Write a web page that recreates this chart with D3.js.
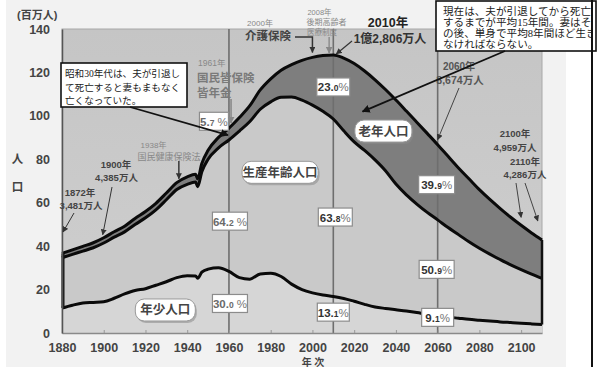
<!DOCTYPE html>
<html>
<head>
<meta charset="utf-8">
<script src="https://cdn.jsdelivr.net/npm/d3@7"></script>
<style>
  html, body { margin: 0; padding: 0; background: #fff; }
  svg { display: block; }
</style>
</head>
<body>
<svg id="chart" width="601" height="367"></svg>
<script>
// Japan population by age group, 1880–2110 (millions)
const years = [1880, 1885, 1890, 1895, 1900, 1905, 1910, 1915, 1920, 1925, 1930, 1935, 1940, 1944, 1945, 1947,
  1950, 1955, 1960, 1965, 1970, 1975, 1980, 1985, 1990, 1995, 2000, 2005, 2010, 2015, 2020, 2025, 2030,
  2035, 2040, 2045, 2050, 2055, 2060, 2065, 2070, 2075, 2080, 2085, 2090, 2095, 2100, 2105, 2110];
const totalPop = [36.65, 38.31, 39.90, 41.56, 43.85, 46.62, 49.18, 52.75, 55.96, 59.74, 64.45, 69.25, 71.93, 73.10, 71.00, 78.10,
  84.12, 90.08, 94.30, 99.21, 104.67, 111.94, 117.06, 121.05, 123.61, 125.57, 126.93, 127.77, 128.06, 126.60, 124.10, 120.66, 116.62,
  112.12, 107.28, 102.21, 97.08, 91.93, 86.74, 81.35, 76.00, 71.00, 66.00, 61.50, 57.30, 53.30, 49.59, 46.10, 42.86];
const youthPop = [11.5, 12.8, 13.8, 14.1, 14.4, 16.0, 18.0, 19.6, 20.4, 22.0, 23.6, 25.5, 26.4, 26.3, 25.2, 28.0,
  29.4, 30.0, 28.33, 25.5, 24.8, 27.2, 27.5, 26.0, 22.5, 20.0, 18.5, 17.5, 16.83, 15.9, 14.6, 13.2, 12.0,
  11.3, 10.7, 10.1, 9.4, 8.6, 7.93, 7.3, 6.8, 6.3, 5.9, 5.5, 5.1, 4.8, 4.5, 4.2, 3.9];
const elderlyPop = [2.0, 2.1, 2.2, 2.3, 2.4, 2.5, 2.6, 2.8, 2.9, 3.0, 3.1, 3.2, 3.5, 3.6, 3.6, 3.8,
  4.1, 4.8, 5.41, 6.2, 7.3, 8.9, 10.6, 12.5, 14.9, 18.3, 22.0, 25.7, 29.50, 33.5, 36.1, 36.6, 36.9,
  37.4, 38.7, 38.6, 37.7, 36.4, 34.64, 32.8, 30.7, 29.0, 27.0, 25.2, 23.5, 21.9, 20.4, 19.0, 17.7];
const xTicks = [1880, 1900, 1920, 1940, 1960, 1980, 2000, 2020, 2040, 2060, 2080, 2100];
const yTicks = [0, 20, 40, 60, 80, 100, 120, 140];
const shareYears = [1960, 2010, 2060];

const rows = years.map((yr, i) => ({
  year: yr,
  total: totalPop[i],
  youth: youthPop[i],
  elderly: elderlyPop[i],
  under65: totalPop[i] - elderlyPop[i]
}));
const at = yr => rows.find(r => r.year === yr);

const LAT = "'Liberation Sans', Arial, 'Noto Sans CJK JP', sans-serif";
const CJK = "'Noto Sans CJK JP', 'Liberation Sans', sans-serif";
const SERIF = "'Liberation Serif', 'Noto Sans CJK JP', serif";

const svg = d3.select("#chart");
const x = d3.scaleLinear().domain([1880, 2110]).range([62, 542]);
const y = d3.scaleLinear().domain([0, 140]).range([333, 29]);

const defs = svg.append("defs");
const bgGrad = defs.append("linearGradient").attr("id", "plotBg").attr("x1", 0).attr("y1", 0).attr("x2", 0).attr("y2", 1);
bgGrad.append("stop").attr("offset", "0%").attr("stop-color", "#c5c5c5");
bgGrad.append("stop").attr("offset", "100%").attr("stop-color", "#cfcfcf");
function marker(id, color, size) {
  defs.append("marker").attr("id", id).attr("viewBox", "0 0 10 10").attr("refX", 9).attr("refY", 5)
    .attr("markerUnits", "userSpaceOnUse").attr("markerWidth", size).attr("markerHeight", size)
    .attr("orient", "auto")
    .append("path").attr("d", "M0,0 L10,5 L0,10 z").attr("fill", color);
}
marker("arrBlack", "#111", 8);
marker("arrDark", "#333", 6);
marker("arrGray", "#888", 7);
defs.append("clipPath").attr("id", "noteClip").append("rect")
  .attr("x", 436).attr("y", 0).attr("width", 155).attr("height", 52);

// figure panel
svg.append("rect").attr("x", 6).attr("y", 0).attr("width", 560).attr("height", 367).attr("fill", "#f2f2f2");

// plot background
svg.append("rect")
  .attr("x", x(1880)).attr("y", y(140))
  .attr("width", x(2110) - x(1880)).attr("height", y(0) - y(140))
  .attr("fill", "url(#plotBg)").attr("stroke", "#a8a8a8").attr("stroke-width", 1);

const curve = d3.curveMonotoneX;
const g = svg.append("g");

// stacked age bands
g.append("path").datum(rows).attr("fill", "#d6d6d6")
  .attr("d", d3.area().curve(curve).x(d => x(d.year)).y0(y(0)).y1(d => y(d.youth)));
g.append("path").datum(rows).attr("fill", "#c9c9c9")
  .attr("d", d3.area().curve(curve).x(d => x(d.year)).y0(d => y(d.youth)).y1(d => y(d.under65)));
g.append("path").datum(rows).attr("fill", "#7e7e7e")
  .attr("d", d3.area().curve(curve).x(d => x(d.year)).y0(d => y(d.under65)).y1(d => y(d.total)));

// reference years
g.selectAll(".refLine").data(shareYears).join("line")
  .attr("x1", d => x(d)).attr("x2", d => x(d))
  .attr("y1", y(140)).attr("y2", y(0))
  .attr("stroke", "#6e6e6e").attr("stroke-width", 1.6);

// boundary lines
["total", "under65", "youth"].forEach(k => {
  g.append("path").datum(rows).attr("fill", "none").attr("stroke", "#0a0a0a")
    .attr("stroke-width", 3).attr("stroke-linejoin", "round")
    .attr("d", d3.line().curve(curve).x(d => x(d.year)).y(d => y(d[k])));
});
const first = rows[0], last = rows[rows.length - 1];
g.append("line").attr("x1", x(first.year) + 1).attr("x2", x(first.year) + 1)
  .attr("y1", y(first.youth)).attr("y2", y(first.total)).attr("stroke", "#111").attr("stroke-width", 3);
g.append("line").attr("x1", x(last.year)).attr("x2", x(last.year))
  .attr("y1", y(last.youth)).attr("y2", y(last.total)).attr("stroke", "#111").attr("stroke-width", 2.5);

// axes
const xAxis = svg.append("g").attr("transform", `translate(0,${y(0)})`)
  .call(d3.axisBottom(x).tickValues(xTicks).tickFormat(d3.format("d")).tickSizeInner(-3).tickSizeOuter(0).tickPadding(10));
xAxis.select(".domain").attr("stroke", "#8a8a8a").attr("stroke-width", 1.5);
xAxis.selectAll(".tick line").attr("stroke", "#999");
xAxis.selectAll("text").attr("font-family", LAT).attr("font-size", 12.5).attr("font-weight", "bold").attr("fill", "#444");

const yAxis = svg.append("g").attr("transform", `translate(${x(1880)},0)`)
  .call(d3.axisLeft(y).tickValues(yTicks).tickSize(0).tickPadding(12));
yAxis.select(".domain").attr("stroke", "#555").attr("stroke-width", 1.5);
yAxis.selectAll("text").attr("font-family", LAT).attr("font-size", 12.5).attr("font-weight", "bold").attr("fill", "#444");

// axis titles
function txt(t, px, py, size, opts = {}) {
  return svg.append("text").attr("x", px).attr("y", py).text(t)
    .attr("font-family", opts.family || CJK).attr("font-size", size)
    .attr("font-weight", opts.weight || "normal").attr("fill", opts.fill || "#444")
    .attr("text-anchor", opts.anchor || "start");
}
txt("(百万人)", 17, 19, 11, { weight: "bold", family: LAT });
txt("人", 17.5, 163, 11.5, { weight: "bold", anchor: "middle" });
txt("口", 17.5, 191, 11.5, { weight: "bold", anchor: "middle" });
txt("年  次", 313, 365.5, 10, { weight: "bold", anchor: "middle" });

// share boxes at reference years
const fmt1 = d3.format(".1f");
const shareLayout = [
  { year: 1960, key: "elderly", at: 97.5, dx: -15, w: 29, light: true, gap: true },
  { year: 1960, key: "working", at: 51.5, dx: 1, w: 35, light: true, gap: true },
  { year: 1960, key: "youth", at: 13.6, dx: 1, w: 35, light: true, gap: true },
  { year: 2010, key: "elderly", at: 113.3, dx: 0, w: 33 },
  { year: 2010, key: "working", at: 53.4, dx: 2, w: 34 },
  { year: 2010, key: "youth", at: 9.6, dx: 0, w: 32 },
  { year: 2060, key: "elderly", at: 68.3, dx: -1, w: 36 },
  { year: 2060, key: "working", at: 29.3, dx: -1, w: 35 },
  { year: 2060, key: "youth", at: 7.2, dx: 0, w: 32 }
];
shareLayout.forEach(s => {
  const r = at(s.year);
  const val = s.key === "working" ? r.total - r.youth - r.elderly : r[s.key];
  const pct = fmt1(val / r.total * 100);
  const [ip, dp] = pct.split(".");
  const cx = x(s.year) + s.dx, cy = y(s.at);
  svg.append("rect").attr("x", cx - s.w / 2).attr("y", cy - 9).attr("width", s.w).attr("height", 18)
    .attr("fill", "#fff").attr("stroke", "#8c8c8c").attr("stroke-width", 1.2);
  const t = svg.append("text").attr("x", cx).attr("y", cy + 4.5).attr("text-anchor", "middle")
    .attr("font-family", LAT).attr("font-weight", "bold");
  const col = s.light ? "#6a6a6a" : "#333";
  t.append("tspan").attr("font-size", 11.5).attr("fill", col).text(ip + ".");
  t.append("tspan").attr("font-size", 8.5).attr("fill", col).text(dp);
  t.append("tspan").attr("font-size", 11.5).attr("font-weight", "normal").attr("fill", "#777")
    .text(s.gap ? " %" : "%");
});

// rounded group labels
function bubble(label, yr, v, w) {
  const cx = x(yr), cy = y(v), h = 22;
  svg.append("rect").attr("x", cx - w / 2 + 1.5).attr("y", cy - h / 2 + 2).attr("width", w).attr("height", h)
    .attr("rx", 9).attr("fill", "#8a8a8a").attr("opacity", 0.55);
  svg.append("rect").attr("x", cx - w / 2).attr("y", cy - h / 2).attr("width", w).attr("height", h)
    .attr("rx", 9).attr("fill", "#fff").attr("stroke", "#999").attr("stroke-width", 1);
  svg.append("text").attr("x", cx).attr("y", cy + 4.5).attr("text-anchor", "middle")
    .attr("font-family", CJK).attr("font-weight", "bold").attr("font-size", 12.5).attr("fill", "#444").text(label);
}
bubble("老年人口", 2034, 93, 57);
bubble("生産年齢人口", 1984.5, 74, 76);
bubble("年少人口", 1929.5, 10.6, 60);

// population call-outs
const man = v => d3.format(",")(Math.round(v * 100)) + "万人";
function arrow(x1, y1, x2, y2, mk, color, w) {
  svg.append("line").attr("x1", x1).attr("y1", y1).attr("x2", x2).attr("y2", y2)
    .attr("stroke", color).attr("stroke-width", w).attr("marker-end", `url(#${mk})`);
}
const bold = { weight: "bold", family: LAT, fill: "#444" };

txt("1872年", 80, 196, 9.5, { ...bold, anchor: "middle" });
txt("3,481万人", 81, 209, 9.5, { ...bold, anchor: "middle" });
arrow(74, 213, x(1880) + 1, y(46.5), "arrDark", "#333", 1);

const p1900 = at(1900);
txt("1900年", 116, 168, 9.5, { ...bold, anchor: "middle" });
txt(man(p1900.total), 116.5, 181, 9.5, { ...bold, anchor: "middle" });
arrow(112, 187, x(1900) - 1, y(p1900.total) - 3, "arrDark", "#333", 1);

const p2010 = at(2010);
const tot2010 = Math.round(p2010.total * 100);
txt("2010年", 388, 27, 12.5, { ...bold, fill: "#222", anchor: "middle" });
txt(Math.floor(tot2010 / 10000) + "億" + d3.format(",")(tot2010 % 10000) + "万人", 390, 43, 12, { ...bold, fill: "#333", anchor: "middle" });
arrow(352, 41, x(2010) + 3, y(p2010.total) - 1, "arrDark", "#333", 1.2);

const p2060 = at(2060);
txt("2060年", 459, 70, 10, { ...bold, fill: "#555", anchor: "middle" });
txt(man(p2060.total), 460, 84, 10.5, { ...bold, fill: "#555", anchor: "middle" });
arrow(459, 88, x(2060), y(p2060.total) - 5, "arrDark", "#444", 1);

const p2100 = at(2100), p2110 = at(2110);
txt("2100年", 515, 137, 9.5, { ...bold, anchor: "middle" });
txt(man(p2100.total), 515, 151, 9.5, { ...bold, anchor: "middle" });
txt("2110年", 525, 165, 9.5, { ...bold, anchor: "middle" });
txt(man(p2110.total), 525, 178, 9.5, { ...bold, anchor: "middle" });
arrow(516, 183, x(2100), y(p2100.total) - 8, "arrDark", "#444", 1);
arrow(525, 183, x(2108), y(at(2105).total) - 12, "arrDark", "#444", 1);

// policy milestones
const gray = { fill: "#888", family: CJK };
txt("1938年", 153.5, 148, 8, { ...gray, family: LAT, anchor: "middle" });
txt("国民健康保険法", 169, 160, 9, { ...gray, anchor: "middle" });
arrow(x(1936), 161, x(1936), y(at(1935).total) - 4, "arrDark", "#222", 1.3);

txt("1961年", 198, 66, 8.5, { ...gray, family: LAT });
txt("国民皆保険", 197, 82, 11.5, { fill: "#7a7a7a", family: CJK, weight: "bold" });
txt("皆年金", 197, 96.5, 11.5, { fill: "#7a7a7a", family: CJK, weight: "bold" });
arrow(x(1961), 99, x(1961), 123, "arrGray", "#8a8a8a", 1.6);

txt("2000年", 260, 26, 8, { ...gray, family: LAT, anchor: "middle" });
txt("介護保険", 268, 40, 11.5, { fill: "#444", family: CJK, weight: "bold", anchor: "middle" });
svg.append("path")
  .attr("d", `M295,37 H${x(2000)} V${y(at(2000).total) - 5}`)
  .attr("fill", "none").attr("stroke", "#333").attr("stroke-width", 1.5).attr("marker-end", "url(#arrDark)");

txt("2008年", 319.5, 15, 7.5, { ...gray, family: LAT, anchor: "middle" });
txt("後期高齢者", 326.5, 25, 8, { ...gray, anchor: "middle" });
txt("医療制度", 322, 35, 7.5, { ...gray, anchor: "middle" });
arrow(x(2008), 37, x(2008), y(at(2010).total) - 2, "arrGray", "#8a8a8a", 1.4);

// explanatory notes
const mid = r => (r.total + r.under65) / 2;
svg.append("rect").attr("x", 61).attr("y", 63).attr("width", 126).attr("height", 44)
  .attr("fill", "#fff").attr("stroke", "#111").attr("stroke-width", 1.6);
["昭和30年代は、夫が引退し", "て死亡すると妻もまもなく", "亡くなっていた。"].forEach((l, i) => {
  txt(l, 65, 77 + i * 13.5, 9.6, { family: SERIF, fill: "#222" });
});
arrow(130, 107, x(1960) - 1, y(mid(at(1960))) + 1, "arrBlack", "#111", 1.8);

svg.append("rect").attr("x", 436).attr("y", 1).attr("width", 160).attr("height", 50)
  .attr("fill", "#fff").attr("stroke", "#111").attr("stroke-width", 1.6);
const note = svg.append("g").attr("clip-path", "url(#noteClip)");
["現在は、夫が引退してから死亡", "するまでが平均15年間。妻はそ", "の後、単身で平均8年間ほど生き", "なければならない。"].forEach((l, i) => {
  note.append("text").attr("x", 443).attr("y", 14.5 + i * 11.3).text(l)
    .attr("font-family", SERIF).attr("font-size", 10.6).attr("fill", "#222");
});
const tipRow = { total: 121.3, under65: 84.5 };
arrow(505, 51, x(2024), y(mid(tipRow)) + 2, "arrBlack", "#111", 1.8);

// right frame rule
svg.append("line").attr("x1", 592).attr("x2", 592).attr("y1", 0).attr("y2", 367)
  .attr("stroke", "#111").attr("stroke-width", 2);
</script>
</body>
</html>
